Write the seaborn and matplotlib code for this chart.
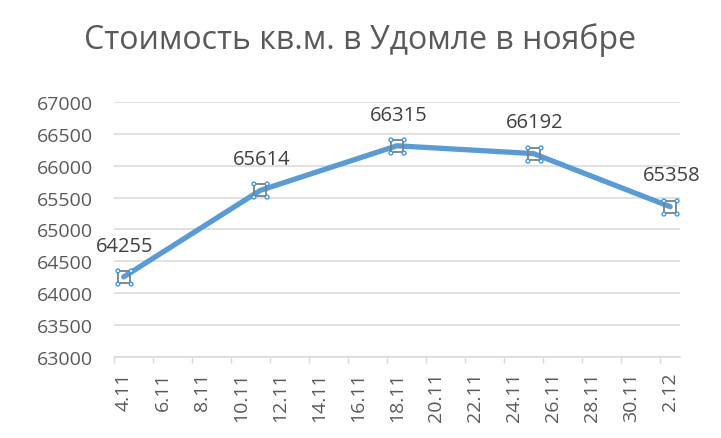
import matplotlib
matplotlib.use("Agg")
import matplotlib.pyplot as plt
import pandas as pd
import seaborn as sns
from matplotlib.path import Path

# data
dates = ["2021-11-04", "2021-11-11", "2021-11-18", "2021-11-25", "2021-12-02"]
prices = [64255, 65614, 66315, 66192, 65358]
tick_labels = ["4.11", "6.11", "8.11", "10.11", "12.11", "14.11", "16.11", "18.11",
               "20.11", "22.11", "24.11", "26.11", "28.11", "30.11", "2.12"]
title = "Стоимость кв.м. в Удомле в ноябре"

df = pd.DataFrame({"date": pd.to_datetime(dates), "price": prices})

sns.set_theme(style="white")
plt.rcParams["font.family"] = ["Open Sans", "DejaVu Sans"]

fig = plt.figure(figsize=(7.21, 4.39), dpi=100)
ax = fig.add_axes([0.158, 0.185, 0.785, 0.580])

sns.lineplot(data=df, x="date", y="price", color="#5B9BD5", linewidth=3.8,
             solid_capstyle="round", ax=ax, zorder=3)

# excel-like selection handles around each point
ax.plot(df["date"], df["price"], ls="none", marker="s", ms=9.2, mfc="none",
        mec="#7F7F7F", mew=1.3, zorder=4)
r = 0.28
corners = Path.make_compound_path(*[Path.circle((cx, cy), r)
                                    for cx in (-1, 1) for cy in (-1, 1)])
ax.plot(df["date"], df["price"], ls="none", marker=corners, ms=12.2, mfc="white",
        mec="#3C9BE8", mew=1.0, zorder=5)

for d, p in zip(df["date"], df["price"]):
    ax.annotate(f"{p}", (d, p), xytext=(1, 22.5), textcoords="offset points",
                ha="center", va="center", fontsize=14.5, color="#404040")

ax.set_ylim(63000, 67000)
ax.set_yticks(range(63000, 67001, 500))
ax.yaxis.grid(True, color="#D9D9D9", linewidth=1.1)
ax.set_axisbelow(True)

start = pd.Timestamp(dates[0])
ax.set_xlim(start - pd.Timedelta(days=0.5), start + pd.Timedelta(days=28.5))
major = [start + pd.Timedelta(days=2 * k) for k in range(len(tick_labels))]
minor = [start + pd.Timedelta(days=2 * k - 0.5) for k in range(len(tick_labels))]
ax.set_xticks(major)
ax.set_xticklabels(tick_labels, rotation=90)
ax.set_xticks(minor, minor=True)
ax.tick_params(axis="x", which="major", length=0, pad=10.5, labelsize=14, labelcolor="#595959")
ax.tick_params(axis="x", which="minor", length=4, width=1, color="#D9D9D9", bottom=True)
ax.tick_params(axis="y", length=0, pad=15, labelsize=14, labelcolor="#595959")

ax.set_xlabel("")
ax.set_ylabel("")
for side in ("left", "top", "right"):
    ax.spines[side].set_visible(False)
ax.spines["bottom"].set_color("#D9D9D9")
ax.spines["bottom"].set_linewidth(1.1)

fig.text(0.5, 1 - 40 / 439, title, ha="center", va="center", fontsize=23, color="#595959")

fig.savefig("out.png", dpi=100)
